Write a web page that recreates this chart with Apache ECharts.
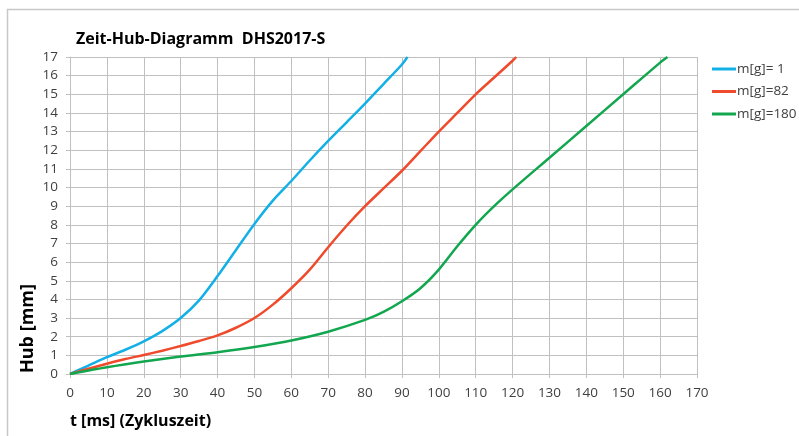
<!DOCTYPE html>
<html><head><meta charset="utf-8">
<script src="https://cdn.jsdelivr.net/npm/echarts@6/dist/echarts.min.js"></script>
<style>html,body{margin:0;padding:0;background:#fff}#c{width:799px;height:436px}</style>
</head><body><div id="c"></div>
<script>
const titleText = 'Zeit-Hub-Diagramm  DHS2017-S';
const xAxisName = 't [ms] (Zykluszeit)';
const yAxisName = 'Hub [mm]';
const seriesNames = ['m[g]= 1', 'm[g]=82', 'm[g]=180'];

const tBlue = [0,5,10,15,20,25,30,35,40,45,50,55,60,65,70,75,80,85,90,91.5];
const hBlue = [0,0.45,0.9,1.3,1.75,2.3,3.0,3.95,5.25,6.65,8.05,9.3,10.35,11.45,12.5,13.5,14.5,15.55,16.6,17];

const tRed = [0,5,10,15,20,25,30,35,40,45,50,55,60,65,70,75,80,85,90,95,100,105,110,115,120,121];
const hRed = [0,0.28,0.55,0.8,1.02,1.25,1.5,1.77,2.07,2.48,3.0,3.72,4.6,5.6,6.8,7.95,9.0,9.95,10.9,11.95,13.0,14.0,15.0,15.9,16.8,17];

const tGreen = [0,10,20,30,40,50,60,70,80,85,90,95,100,105,110,115,120,130,140,150,160,162];
const hGreen = [0,0.36,0.67,0.94,1.17,1.45,1.8,2.27,2.9,3.33,3.9,4.6,5.6,6.85,8.0,9.0,9.9,11.6,13.3,15.0,16.7,17];

const colors = ['#12b0e6', '#f04a2c', '#12a74f'];

const pairs = (t, h) => t.map((v, i) => [v, h[i]]);
const chart = echarts.init(document.getElementById('c'), null, {renderer: 'canvas'});
const gridColor = '#c0c0c0';
const labelColor = '#404040';
const font = '"Open Sans", "Noto Sans", sans-serif';

const lineSeries = (i, t, h) => ({
  name: seriesNames[i], type: 'line', data: pairs(t, h),
  smooth: 0.3, showSymbol: false,
  lineStyle: {width: 2.5, color: colors[i]}, itemStyle: {color: colors[i]}
});

chart.setOption({
  animation: false,
  backgroundColor: '#fff',
  title: {
    text: titleText, left: 71, top: 26,
    textStyle: {fontFamily: font, fontWeight: 'bold', fontSize: 16, color: '#000'}
  },
  legend: {
    orient: 'vertical', left: 707, top: 57,
    itemWidth: 24, itemHeight: 3, itemGap: 8.5, icon: 'rect',
    textStyle: {fontFamily: font, fontSize: 13.5, color: labelColor, padding: [0,0,0,-4]},
    data: seriesNames
  },
  grid: {left: 70, right: 102, top: 57, bottom: 62, containLabel: false},
  xAxis: {
    type: 'value', min: 0, max: 170, interval: 10,
    axisLine: {show: true, lineStyle: {color: gridColor}},
    axisTick: {show: true, length: 4, lineStyle: {color: gridColor}},
    axisLabel: {color: labelColor, fontFamily: font, fontSize: 13.5, margin: 12},
    splitLine: {show: true, lineStyle: {color: gridColor}}
  },
  yAxis: {
    type: 'value', min: 0, max: 17, interval: 1,
    axisLine: {show: true, lineStyle: {color: gridColor}},
    axisTick: {show: true, length: 4, lineStyle: {color: gridColor}},
    axisLabel: {color: labelColor, fontFamily: font, fontSize: 13.5, margin: 12},
    splitLine: {show: true, lineStyle: {color: gridColor}}
  },
  graphic: [
    {type: 'rect', silent: true, z: -1, shape: {x: 7.5, y: 9.5, width: 820, height: 460},
     style: {fill: 'none', stroke: '#c8c8c8', lineWidth: 1.5}},
    {type: 'text', x: 70, y: 421, style: {text: xAxisName, font: 'bold 16px ' + font, fill: '#000', textAlign: 'left', textVerticalAlign: 'middle'}},
    {type: 'text', x: 28, y: 373, rotation: Math.PI / 2, style: {text: yAxisName, font: 'bold 18px ' + font, fill: '#000', textAlign: 'left', textVerticalAlign: 'middle'}}
  ],
  series: [
    lineSeries(0, tBlue, hBlue),
    lineSeries(1, tRed, hRed),
    lineSeries(2, tGreen, hGreen)
  ]
});
</script></body></html>
